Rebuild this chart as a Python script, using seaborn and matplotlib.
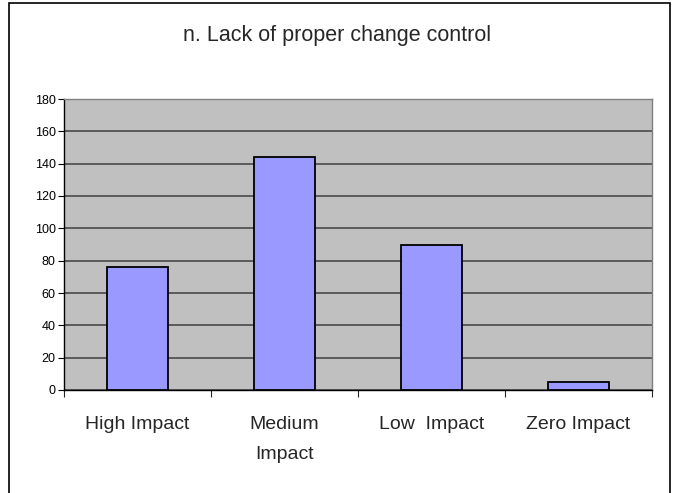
import numpy as np
import pandas as pd
import matplotlib
matplotlib.use("Agg")
import matplotlib.pyplot as plt
from matplotlib.patches import Rectangle
import seaborn as sns

# data
categories = ["High Impact", "Medium\nImpact", "Low  Impact", "Zero Impact"]
counts = [76, 144, 90, 5]
title = "n. Lack of proper change control"

dat = pd.DataFrame({"impact": categories, "count": counts})

sns.set_style("white")
plt.rcParams['font.family'] = ['Liberation Sans', 'DejaVu Sans']

fig = plt.figure(figsize=(6.74, 4.93), dpi=100)
ax = fig.add_axes([64/674, 1 - 390/493, (652 - 64)/674, (390 - 99)/493])

sns.barplot(x="impact", y="count", data=dat, color="#9999FF", width=0.41,
            edgecolor="black", linewidth=1.3, saturation=1, ax=ax, zorder=3)

ax.set_facecolor("#C0C0C0")
ax.set_ylim(0, 180)
ax.set_xlim(-0.5, len(categories) - 0.5)
ax.set_yticks(np.arange(0, 181, 20))
ax.yaxis.grid(True, color="#404040", linewidth=1.1, zorder=0)
ax.set_axisbelow(True)
ax.tick_params(axis="y", labelsize=9, length=4, width=0.8, direction="out",
               left=True, pad=2, colors="black")

# x ticks sit between categories
ax.set_xticks(np.arange(-0.5, len(categories)), minor=True)
ax.tick_params(axis="x", which="minor", length=5, width=0.8, bottom=True)
ax.tick_params(axis="x", which="major", length=0, labelsize=14, pad=19)
for lbl in ax.get_xticklabels():
    lbl.set_verticalalignment("top")
    lbl.set_linespacing(1.95)

ax.set_xlabel("")
ax.set_ylabel("")
for s in ["top", "right"]:
    ax.spines[s].set_color("#808080")
    ax.spines[s].set_linewidth(1.0)
for s in ["left", "bottom"]:
    ax.spines[s].set_color("black")
    ax.spines[s].set_linewidth(1.0)

fig.text(0.5, 1 - 41/493, title, ha="center", va="baseline", fontsize=15.5)

# border around the chart area
fig.patches.append(Rectangle((9/674, -0.01), (670 - 9)/674, 1 - 3/493 + 0.01,
                             transform=fig.transFigure, fill=False,
                             edgecolor="black", linewidth=1.2))

fig.savefig("out.png", dpi=100)
